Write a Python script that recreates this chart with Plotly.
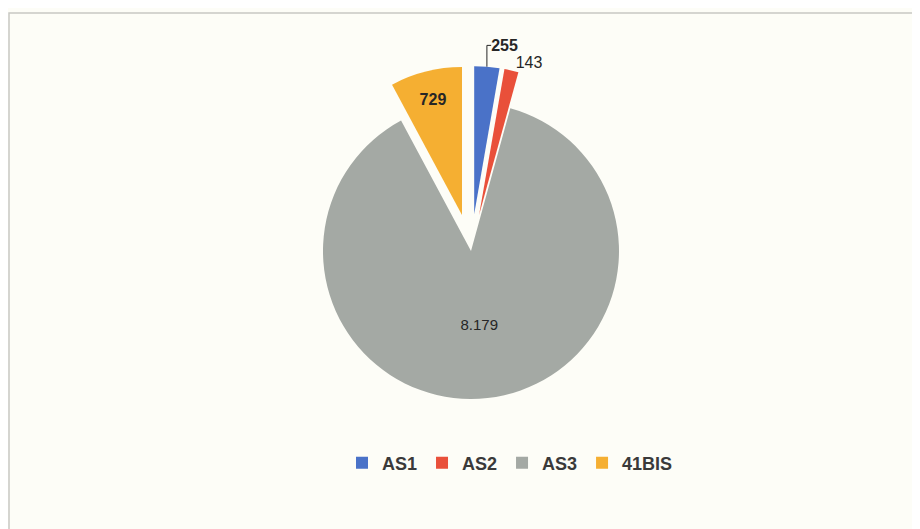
import plotly.graph_objects as go

categories = ["AS1", "AS2", "AS3", "41BIS"]
values = [255, 143, 8179, 729]
colors = ["#4a72c8", "#e9503a", "#a4a9a4", "#f5af32"]
pulls = [0.25, 0.25, 0.0, 0.25]
text_positions = ["outside", "outside", "inside", "inside"]
text_weights = ["bold", "normal", "normal", "bold"]
text_sizes = [16, 16, 15, 16]

labels_txt = [f"{v:,}".replace(",", ".") for v in values]
labels_txt = [f"<b>{t}</b>" if w == "bold" else t for t, w in zip(labels_txt, text_weights)]

W, H = 920, 529
ml, mr, mt, mb = 6, 0, 58, 20
pw = W - ml - mr
ph = H - mt - mb
pie_bottom_px = 428
legend_mid_px = 455
legend_center_px = 502

fig = go.Figure(go.Pie(
    labels=categories,
    values=values,
    text=labels_txt,
    textinfo="text",
    textposition=text_positions,
    insidetextorientation="horizontal",
    sort=False,
    direction="clockwise",
    rotation=0,
    pull=pulls,
    marker=dict(colors=colors, line=dict(width=0)),
    textfont=dict(family="Liberation Sans", size=text_sizes, color="#262626"),
    domain=dict(x=[0, 1], y=[(H - mb - pie_bottom_px) / ph, 1]),
    hoverinfo="label+value",
))

fig.update_layout(
    width=W, height=H,
    margin=dict(l=ml, r=mr, t=mt, b=mb, autoexpand=False),
    paper_bgcolor="#fdfdf7",
    plot_bgcolor="#fdfdf7",
    font=dict(family="Liberation Sans", color="#404040"),
    showlegend=True,
    legend=dict(
        orientation="h",
        x=(legend_center_px - ml) / pw, xanchor="center",
        y=(H - mb - legend_mid_px) / ph, yanchor="middle",
        font=dict(size=18, color="#3a3a3a", family="Liberation Sans", weight="bold"),
        itemwidth=30,
        bgcolor="rgba(0,0,0,0)",
    ),
    shapes=[dict(
        type="rect", xref="paper", yref="paper",
        x0=(1 - ml) / pw, x1=1.05,
        y0=-0.2, y1=1 + (mt - 5) / ph,
        line=dict(color="#c8c8c4", width=1.5),
        fillcolor="rgba(0,0,0,0)", layer="below",
    )],
)

fig.write_html("out.html")
